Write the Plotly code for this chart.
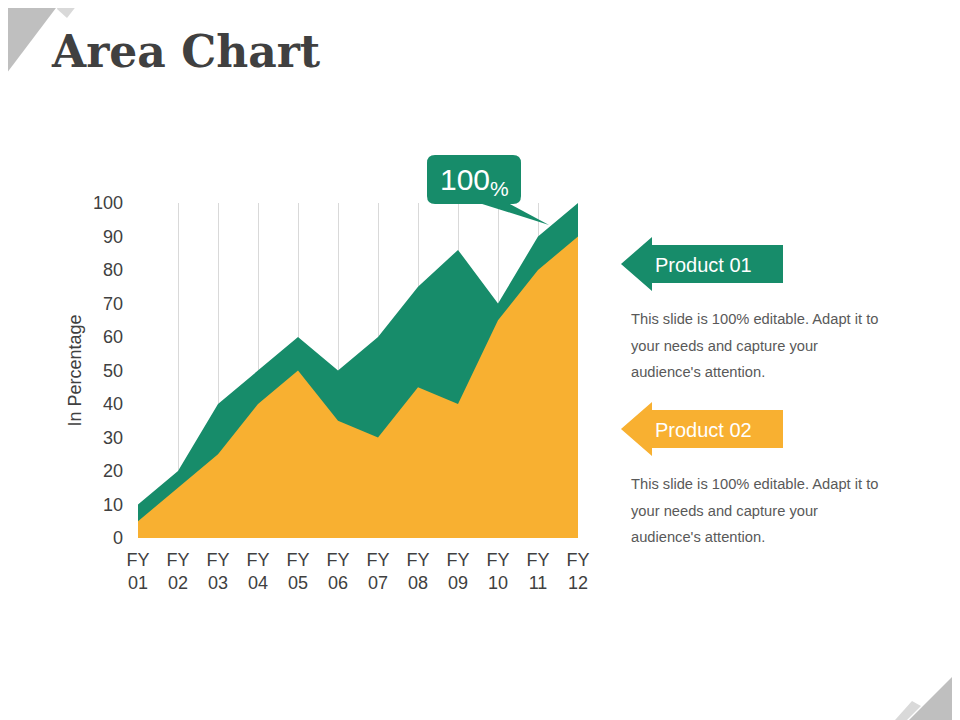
import plotly.graph_objects as go

# data
years = ["FY<br>01", "FY<br>02", "FY<br>03", "FY<br>04", "FY<br>05", "FY<br>06",
         "FY<br>07", "FY<br>08", "FY<br>09", "FY<br>10", "FY<br>11", "FY<br>12"]
product_01 = [10, 20, 40, 50, 60, 50, 60, 75, 86, 70, 90, 100]
product_02 = [5, 15, 25, 40, 50, 35, 30, 45, 40, 65, 80, 90]
y_ticks = [0, 10, 20, 30, 40, 50, 60, 70, 80, 90, 100]

GREEN = "#178C6A"
ORANGE = "#F8B031"
TEXT = "#404040"
BODY = "#595959"

# the page body has an 8px margin, so work in page pixels and shift
OFF = 8
W, H = 960 - OFF, 720 - OFF
# plot area in page pixels
PX0, PX1, PY0, PY1 = 138, 578, 203, 538


def px(x):
    return (x - PX0) / (PX1 - PX0)


def py(y):
    return (PY1 - y) / (PY1 - PY0)


def path(points):
    return "M " + " L ".join("{:.4f},{:.4f}".format(px(a), py(b)) for a, b in points) + " Z"


fig = go.Figure()
fig.add_trace(go.Scatter(x=years, y=product_01, fill="tozeroy", mode="lines",
                         line=dict(width=0, color=GREEN), fillcolor=GREEN,
                         name="Product 01", hoverinfo="skip"))
fig.add_trace(go.Scatter(x=years, y=product_02, fill="tozeroy", mode="lines",
                         line=dict(width=0, color=ORANGE), fillcolor=ORANGE,
                         name="Product 02", hoverinfo="skip"))

shapes = []
# corner decorations
shapes.append(dict(type="path", path=path([(0, 0), (62, 0), (0, 82)]),
                   fillcolor="#BFBFBF", line_width=0))
shapes.append(dict(type="path", path=path([(60, 0), (81, 0), (67, 18), (57, 9)]),
                   fillcolor="#D9D9D9", line_width=0))
shapes.append(dict(type="path", path=path([(960, 669), (960, 720), (909, 720)]),
                   fillcolor="#BFBFBF", line_width=0))
shapes.append(dict(type="path", path=path([(895, 720), (912, 701), (921, 706), (907, 720)]),
                   fillcolor="#D9D9D9", line_width=0))

# callout bubble
r = 8
x0, x1, y0, y1 = 427, 521, 155, 204
bubble = ("M {a},{b} L {c},{b} Q {d},{b} {d},{e} L {d},{f} Q {d},{g} {c},{g} "
          "L {a},{g} Q {h},{g} {h},{f} L {h},{e} Q {h},{b} {a},{b} Z").format(
    a=px(x0 + r), b=py(y0), c=px(x1 - r), d=px(x1), e=py(y0 + r),
    f=py(y1 - r), g=py(y1), h=px(x0))
shapes.append(dict(type="path", path=bubble, fillcolor=GREEN, line_width=0))
shapes.append(dict(type="path", path=path([(479, 203), (508, 203), (549, 225)]),
                   fillcolor=GREEN, line_width=0))

# legend arrows
for top, color in [(245, GREEN), (410, ORANGE)]:
    shapes.append(dict(type="path", fillcolor=color, line_width=0, path=path([
        (621, top + 19), (652, top - 8), (652, top), (783, top), (783, top + 38),
        (652, top + 38), (652, top + 46)])))

fig.update_layout(shapes=[dict(s, xref="paper", yref="paper", layer="above") for s in shapes])

annotations = [
    dict(x=px(49), y=py(52), text="<b>Area Chart</b>", xanchor="left", yanchor="middle",
         font=dict(family="DejaVu Serif", size=44, color=TEXT)),
    dict(x=px(474), y=py(181), text="100<sub>%</sub>", xanchor="center", yanchor="middle",
         font=dict(family="Liberation Sans", size=30, color="white")),
    dict(x=px(653), y=py(265), text="Product 01", xanchor="left", yanchor="middle",
         font=dict(family="Liberation Sans", size=20, color="white")),
    dict(x=px(653), y=py(430), text="Product 02", xanchor="left", yanchor="middle",
         font=dict(family="Liberation Sans", size=20, color="white")),
]
para = ["This slide is 100% editable. Adapt it to", "your needs and capture your",
        "audience's attention."]
for base in (319, 484):
    for i, line in enumerate(para):
        annotations.append(dict(x=px(629), y=py(base + i * 26.5), text=line,
                                xanchor="left", yanchor="middle",
                                font=dict(family="Liberation Sans", size=14.7, color=BODY)))
fig.update_layout(annotations=[dict(a, xref="paper", yref="paper", showarrow=False)
                               for a in annotations])

fig.update_xaxes(range=[0, 11], showgrid=True, gridcolor="#D9D9D9", gridwidth=1,
                 showline=False, zeroline=False, ticks="", ticklabelstandoff=9,
                 tickfont=dict(family="Liberation Sans", size=18, color=TEXT))
fig.update_yaxes(range=[0, 100], tickvals=y_ticks, showgrid=False, zeroline=False,
                 showline=False, ticks="", ticklabelstandoff=14,
                 tickfont=dict(family="Liberation Sans", size=18, color=TEXT),
                 title=dict(text="In Percentage", standoff=6,
                            font=dict(family="Liberation Sans", size=18, color=TEXT)))

fig.update_layout(width=W, height=H, showlegend=False,
                  paper_bgcolor="white", plot_bgcolor="white",
                  margin=dict(l=PX0 - OFF, r=960 - PX1, t=PY0 - OFF, b=720 - PY1,
                              autoexpand=False))

fig.write_html("out.html")
